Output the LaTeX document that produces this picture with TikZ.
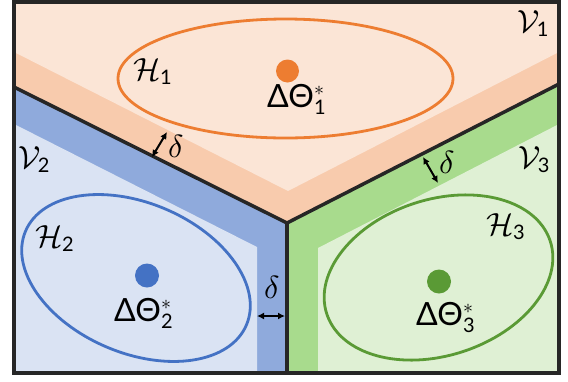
\documentclass[tikz,border=0pt]{standalone}
\usepackage{fontspec}
\usepackage{amsmath}
\usetikzlibrary{arrows.meta}
\newfontfamily\lato{Lato}
\DeclareFontShape{OMS}{cmsy}{m}{n}{<->cmsy10}{}
\DeclareFontShape{OML}{cmm}{m}{it}{<->cmmi10}{}
\DeclareMathSizes{32}{32}{20}{14}
\definecolor{olight}{HTML}{FBE5D6}
\definecolor{oband}{HTML}{F8CBAD}
\definecolor{ocol}{HTML}{ED7D31}
\definecolor{blight}{HTML}{DAE3F3}
\definecolor{bband}{HTML}{8FAADC}
\definecolor{bcol}{HTML}{4472C4}
\definecolor{glight}{HTML}{DFF0D4}
\definecolor{gband}{HTML}{A8DB8D}
\definecolor{gcol}{HTML}{5A9A35}
\definecolor{dark}{HTML}{262626}
\tikzset{
  part/.style={draw=dark, line width=3.5pt, line join=miter},
  frame/.style={draw=dark, line width=4pt},
  ell/.style={line width=2.8pt},
  lbl/.style={inner sep=0pt, anchor=base west, font=\lato\fontsize{32pt}{36pt}\selectfont},
  darrow/.style={line width=2pt, black, {Latex[length=7pt,width=7pt]}-{Latex[length=7pt,width=7pt]}}
}
\begin{document}
\begin{tikzpicture}[x=1pt,y=-1pt]
\useasboundingbox (0,0) rectangle (568,381);
\fill[white] (0,0) rectangle (568,381);
% regions
\fill[oband] (14,1) -- (559,1) -- (559,84) -- (287,223) -- (14,87) -- cycle;
\fill[olight] (14,1) -- (559,1) -- (559,52) -- (288,191) -- (14,52) -- cycle;
\fill[bband] (14,87) -- (287,223) -- (287,372) -- (14,372) -- cycle;
\fill[blight] (14,124) -- (257,247) -- (257,372) -- (14,372) -- cycle;
\fill[gband] (287,223) -- (559,84) -- (559,372) -- (287,372) -- cycle;
\fill[glight] (559,124) -- (318,248) -- (318,372) -- (559,372) -- cycle;
% partition
\coordinate (L) at (14,87);
\coordinate (C) at (287,223);
\coordinate (R) at (559,84);
\coordinate (B) at (287,372);
\draw[part] (L) -- (C) -- (R);
\draw[part] (C) -- (B);
\draw[frame] (14.3,1.5) rectangle (559,372.5);
% ellipses
\draw[ell, ocol] (285.5,78.5) ellipse [x radius=167.5pt, y radius=59.5pt];
\draw[ell, bcol, shift={(136,278)}, rotate=-23] (0,0) ellipse [x radius=120pt, y radius=75pt];
\draw[ell, gcol, shift={(438.5,277.5)}, rotate=18] (0,0) ellipse [x radius=117.5pt, y radius=78pt];
% dots
\fill[ocol] (287.5,71) circle [radius=11.5pt];
\fill[bcol] (147,275.5) circle [radius=12pt];
\fill[gcol] (439,281.5) circle [radius=12pt];
% labels
\node[lbl] (v1) at (517,32) {$\mathcal{V}_{\text{1}}$};
\node[lbl] (v2) at (18,168) {$\mathcal{V}_{\text{2}}$};
\node[lbl] (v3) at (518,168) {$\mathcal{V}_{\text{3}}$};
\node[lbl] (h1) at (133,80) {$\mathcal{H}_{\text{1}}$};
\node[lbl] (h2) at (35,247) {$\mathcal{H}_{\text{2}}$};
\node[lbl] (h3) at (486,235) {$\mathcal{H}_{\text{3}}$};
\node[lbl] (t1) at (267,107) {ΔΘ$^{*}_{\text{1}}$};
\node[lbl] (t2) at (114,321) {ΔΘ$^{*}_{\text{2}}$};
\node[lbl] (t3) at (416,325) {ΔΘ$^{*}_{\text{3}}$};
\node[lbl] (d1) at (168,157) {$\delta$};
\node[lbl] (d2) at (264,298) {$\delta$};
\node[lbl] (d3) at (439,173) {$\delta$};
% delta arrows
\coordinate (a1) at (152,157); \coordinate (b1) at (167,132);
\coordinate (a2) at (257,316); \coordinate (b2) at (285,316);
\coordinate (a3) at (423,157); \coordinate (b3) at (438,183);
\draw[darrow] (a1) -- (b1);
\draw[darrow] (a2) -- (b2);
\draw[darrow] (a3) -- (b3);
\end{tikzpicture}
\end{document}
